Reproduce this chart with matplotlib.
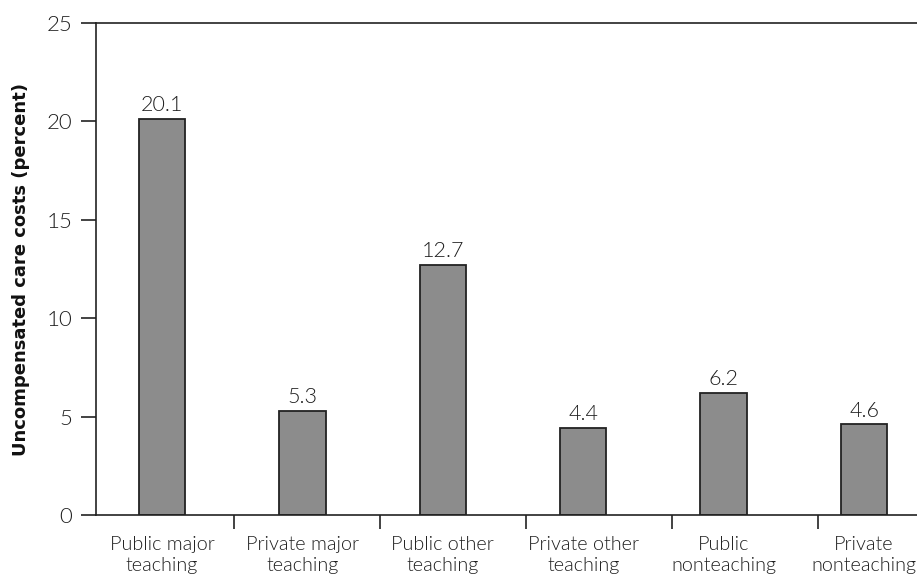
import matplotlib
matplotlib.use("Agg")
from matplotlib import pyplot as plt
import numpy as np

categories = ["Public major\nteaching", "Private major\nteaching", "Public other\nteaching",
              "Private other\nteaching", "Public\nnonteaching", "Private\nnonteaching"]
values = [20.1, 5.3, 12.7, 4.4, 6.2, 4.6]
value_labels = ["20.1", "5.3", "12.7", "4.4", "6.2", "4.6"]
yticks = [0, 5, 10, 15, 20, 25]

txt = dict(family=["Lato", "DejaVu Sans"], fontweight=300, color="#1e1e1e")

fig = plt.figure(figsize=(9.17, 5.86), dpi=100)
ax = fig.add_axes([96 / 917, 71 / 586, 1 - 96 / 917 + 0.002, 492 / 586])

x = np.arange(len(categories))
ax.bar(x, values, width=0.33, color="#8c8c8c", edgecolor="#222222", linewidth=1.3)
for xi, v, lab in zip(x, values, value_labels):
    ax.text(xi, v + 0.2, lab, ha="center", va="bottom", fontsize=15.5, **txt)

ax.set_xlim(-0.47, 5.39)
ax.set_ylim(0, 25)

# category separators as ticks, labels centred under bars
ax.set_xticks([0.51, 1.55, 2.59, 3.63, 4.67])
ax.set_xticklabels([])
ax.tick_params(axis="x", which="major", length=10, width=1.2, direction="out", color="#222222")
ax.set_xticks(x, minor=True)
ax.set_xticklabels(categories, minor=True, fontsize=14.2, linespacing=1.3, **txt)
ax.tick_params(axis="x", which="minor", length=0, pad=15)

ax.set_yticks(yticks)
ax.set_yticklabels([str(t) for t in yticks], fontsize=16, **txt)
ax.tick_params(axis="y", length=11, width=1.2, direction="out", pad=6, color="#222222")

for s in ["left", "bottom", "top"]:
    ax.spines[s].set_linewidth(1.2)
    ax.spines[s].set_color("#222222")
ax.spines["right"].set_visible(False)

ax.set_ylabel("Uncompensated care costs (percent)", fontsize=13, fontweight="bold",
              family="DejaVu Sans", color="#111111", labelpad=12)

fig.savefig("out.png", dpi=100)
